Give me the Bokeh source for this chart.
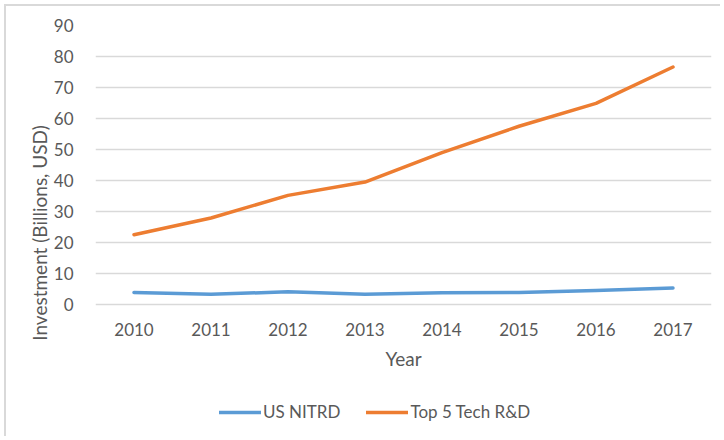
from bokeh.plotting import figure
from bokeh.models import Range1d, FactorRange, FixedTicker, Legend, LegendItem, InlineStyleSheet
from bokeh.embed import file_html
from bokeh.resources import INLINE

years = ["2010", "2011", "2012", "2013", "2014", "2015", "2016", "2017"]
us_nitrd = [3.9, 3.3, 4.1, 3.3, 3.8, 3.9, 4.5, 5.3]
top5_tech = [22.5, 27.9, 35.2, 39.5, 49.0, 57.5, 64.9, 76.6]
y_ticks = [0, 10, 20, 30, 40, 50, 60, 70, 80, 90]

FONT = "Lato"
TXT = "#595959"

# frame: top 25px (value 90) .. 304px (value 0); extra space below holds axis + legend
W, H = 724, 440
TOP, ZERO = 25, 304
y_min = -90 * (H - ZERO) / (ZERO - TOP)

border_css = InlineStyleSheet(css="""
:host::after { content: ""; position: absolute; left: 4px; top: 4px; width: 716px; height: 432px;
  border-left: 2px solid #d9d9d9; border-top: 2px solid #d9d9d9; pointer-events: none; box-sizing: border-box; }
""")

p = figure(width=W, height=H, output_backend="svg", toolbar_location=None,
           x_range=FactorRange(*years, range_padding=0), y_range=Range1d(y_min, 90),
           min_border_left=95, min_border_right=13, min_border_top=TOP, min_border_bottom=0,
           stylesheets=[border_css])
p.outline_line_color = None
p.xgrid.grid_line_color = None
p.yaxis.ticker = FixedTicker(ticks=y_ticks)
p.ygrid.ticker = FixedTicker(ticks=y_ticks)
p.ygrid.grid_line_color = "#d9d9d9"
p.ygrid.grid_line_width = 1.5
p.xaxis.fixed_location = 0

for ax in (p.xaxis[0], p.yaxis[0]):
    ax.axis_line_color = None
    ax.major_tick_line_color = None
    ax.minor_tick_line_color = None
    ax.major_label_text_font = FONT
    ax.major_label_text_font_size = "17px"
    ax.major_label_text_color = TXT
    ax.axis_label_text_font = FONT
    ax.axis_label_text_font_size = "19px"
    ax.axis_label_text_color = TXT
    ax.axis_label_text_font_style = "normal"

p.xaxis.axis_label = "Year"
p.yaxis.axis_label = "Investment (Billions, USD)"
p.xaxis.major_label_standoff = 12
p.xaxis.axis_label_standoff = 8
p.yaxis.major_label_standoff = 16
p.yaxis.axis_label_standoff = 0

r1 = p.line(years, us_nitrd, line_color="#5B9BD5", line_width=3.5, line_cap="round", line_join="round")
r2 = p.line(years, top5_tech, line_color="#ED7D31", line_width=3.5, line_cap="round", line_join="round")

legend = Legend(items=[LegendItem(label="US NITRD", renderers=[r1]),
                       LegendItem(label="Top 5 Tech R&D", renderers=[r2])],
                orientation="horizontal", location=(124, 18),
                label_text_font=FONT, label_text_font_size="17px", label_text_color=TXT,
                glyph_width=42, glyph_height=16, label_height=16, label_standoff=2,
                spacing=26, padding=0, margin=0,
                border_line_color=None, background_fill_alpha=0)
p.add_layout(legend, "center")

open("out.html", "w").write(file_html(p, INLINE))
